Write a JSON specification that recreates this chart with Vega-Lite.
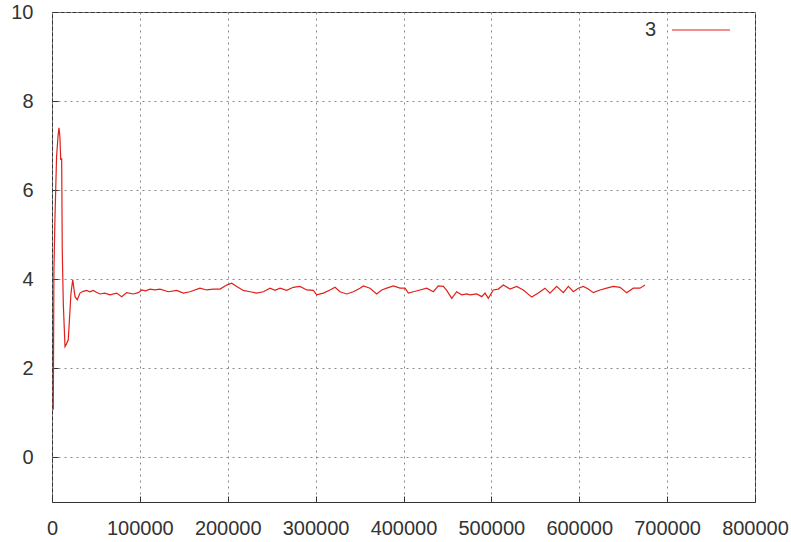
{
  "$schema": "https://vega.github.io/schema/vega-lite/v6.json",
  "width": 703,
  "height": 490,
  "autosize": "none",
  "padding": {"left": 52, "top": 12, "right": 36, "bottom": 40},
  "background": "white",
  "config": {
    "view": {"stroke": "#333", "strokeWidth": 1},
    "font": "Liberation Sans",
    "axis": {
      "domain": false,
      "grid": true,
      "gridColor": "#888",
      "gridDash": [2, 4],
      "gridWidth": 1,
      "ticks": true,
      "tickSize": -6,
      "tickColor": "#333",
      "labelFont": "Liberation Sans",
      "labelFontSize": 20,
      "labelColor": "#333",
      "title": null
    }
  },
  "data": {
    "values": [
      {"step": 1480, "value": 1.07, "series": "3"},
      {"step": 2160, "value": 4.17, "series": "3"},
      {"step": 3410, "value": 5.41, "series": "3"},
      {"step": 5200, "value": 6.75, "series": "3"},
      {"step": 7000, "value": 7.25, "series": "3"},
      {"step": 7970, "value": 7.4, "series": "3"},
      {"step": 9000, "value": 7.2, "series": "3"},
      {"step": 9900, "value": 6.69, "series": "3"},
      {"step": 11000, "value": 6.7, "series": "3"},
      {"step": 11700, "value": 4.6, "series": "3"},
      {"step": 12900, "value": 3.43, "series": "3"},
      {"step": 14800, "value": 2.49, "series": "3"},
      {"step": 16500, "value": 2.55, "series": "3"},
      {"step": 18500, "value": 2.64, "series": "3"},
      {"step": 20500, "value": 3.31, "series": "3"},
      {"step": 21600, "value": 3.69, "series": "3"},
      {"step": 23600, "value": 3.99, "series": "3"},
      {"step": 26200, "value": 3.61, "series": "3"},
      {"step": 28800, "value": 3.54, "series": "3"},
      {"step": 31900, "value": 3.69, "series": "3"},
      {"step": 35500, "value": 3.73, "series": "3"},
      {"step": 39500, "value": 3.75, "series": "3"},
      {"step": 43000, "value": 3.72, "series": "3"},
      {"step": 47000, "value": 3.75, "series": "3"},
      {"step": 50500, "value": 3.71, "series": "3"},
      {"step": 54600, "value": 3.67, "series": "3"},
      {"step": 60000, "value": 3.69, "series": "3"},
      {"step": 66000, "value": 3.65, "series": "3"},
      {"step": 73600, "value": 3.69, "series": "3"},
      {"step": 79300, "value": 3.61, "series": "3"},
      {"step": 85000, "value": 3.7, "series": "3"},
      {"step": 92500, "value": 3.67, "series": "3"},
      {"step": 98200, "value": 3.7, "series": "3"},
      {"step": 102000, "value": 3.76, "series": "3"},
      {"step": 106500, "value": 3.74, "series": "3"},
      {"step": 111500, "value": 3.78, "series": "3"},
      {"step": 117000, "value": 3.76, "series": "3"},
      {"step": 122900, "value": 3.78, "series": "3"},
      {"step": 132400, "value": 3.72, "series": "3"},
      {"step": 141900, "value": 3.75, "series": "3"},
      {"step": 149500, "value": 3.69, "series": "3"},
      {"step": 157000, "value": 3.72, "series": "3"},
      {"step": 168400, "value": 3.8, "series": "3"},
      {"step": 176000, "value": 3.76, "series": "3"},
      {"step": 183600, "value": 3.78, "series": "3"},
      {"step": 191200, "value": 3.78, "series": "3"},
      {"step": 198800, "value": 3.87, "series": "3"},
      {"step": 204500, "value": 3.91, "series": "3"},
      {"step": 210200, "value": 3.84, "series": "3"},
      {"step": 217700, "value": 3.75, "series": "3"},
      {"step": 225300, "value": 3.72, "series": "3"},
      {"step": 232900, "value": 3.69, "series": "3"},
      {"step": 240500, "value": 3.72, "series": "3"},
      {"step": 248100, "value": 3.8, "series": "3"},
      {"step": 253800, "value": 3.75, "series": "3"},
      {"step": 259500, "value": 3.8, "series": "3"},
      {"step": 267100, "value": 3.75, "series": "3"},
      {"step": 274600, "value": 3.82, "series": "3"},
      {"step": 282200, "value": 3.84, "series": "3"},
      {"step": 289900, "value": 3.76, "series": "3"},
      {"step": 297400, "value": 3.75, "series": "3"},
      {"step": 301200, "value": 3.65, "series": "3"},
      {"step": 308800, "value": 3.69, "series": "3"},
      {"step": 316400, "value": 3.76, "series": "3"},
      {"step": 322100, "value": 3.82, "series": "3"},
      {"step": 327700, "value": 3.72, "series": "3"},
      {"step": 335400, "value": 3.67, "series": "3"},
      {"step": 342900, "value": 3.72, "series": "3"},
      {"step": 350500, "value": 3.8, "series": "3"},
      {"step": 354300, "value": 3.85, "series": "3"},
      {"step": 361900, "value": 3.8, "series": "3"},
      {"step": 369500, "value": 3.67, "series": "3"},
      {"step": 375200, "value": 3.76, "series": "3"},
      {"step": 380900, "value": 3.8, "series": "3"},
      {"step": 388400, "value": 3.85, "series": "3"},
      {"step": 396000, "value": 3.8, "series": "3"},
      {"step": 401700, "value": 3.8, "series": "3"},
      {"step": 405500, "value": 3.69, "series": "3"},
      {"step": 411200, "value": 3.72, "series": "3"},
      {"step": 418800, "value": 3.76, "series": "3"},
      {"step": 426400, "value": 3.8, "series": "3"},
      {"step": 433900, "value": 3.72, "series": "3"},
      {"step": 439600, "value": 3.85, "series": "3"},
      {"step": 445300, "value": 3.84, "series": "3"},
      {"step": 449200, "value": 3.75, "series": "3"},
      {"step": 454900, "value": 3.57, "series": "3"},
      {"step": 460500, "value": 3.72, "series": "3"},
      {"step": 466200, "value": 3.65, "series": "3"},
      {"step": 471900, "value": 3.67, "series": "3"},
      {"step": 475700, "value": 3.65, "series": "3"},
      {"step": 483300, "value": 3.67, "series": "3"},
      {"step": 489000, "value": 3.61, "series": "3"},
      {"step": 492800, "value": 3.69, "series": "3"},
      {"step": 496500, "value": 3.57, "series": "3"},
      {"step": 502200, "value": 3.76, "series": "3"},
      {"step": 507900, "value": 3.78, "series": "3"},
      {"step": 513600, "value": 3.87, "series": "3"},
      {"step": 521200, "value": 3.78, "series": "3"},
      {"step": 528800, "value": 3.84, "series": "3"},
      {"step": 536300, "value": 3.76, "series": "3"},
      {"step": 545900, "value": 3.6, "series": "3"},
      {"step": 553400, "value": 3.69, "series": "3"},
      {"step": 561000, "value": 3.8, "series": "3"},
      {"step": 566700, "value": 3.69, "series": "3"},
      {"step": 574300, "value": 3.84, "series": "3"},
      {"step": 581900, "value": 3.7, "series": "3"},
      {"step": 587600, "value": 3.84, "series": "3"},
      {"step": 593300, "value": 3.72, "series": "3"},
      {"step": 599000, "value": 3.8, "series": "3"},
      {"step": 604600, "value": 3.84, "series": "3"},
      {"step": 610300, "value": 3.78, "series": "3"},
      {"step": 616000, "value": 3.7, "series": "3"},
      {"step": 623600, "value": 3.76, "series": "3"},
      {"step": 631200, "value": 3.8, "series": "3"},
      {"step": 638800, "value": 3.84, "series": "3"},
      {"step": 646400, "value": 3.82, "series": "3"},
      {"step": 654000, "value": 3.7, "series": "3"},
      {"step": 661500, "value": 3.8, "series": "3"},
      {"step": 669100, "value": 3.8, "series": "3"},
      {"step": 674800, "value": 3.87, "series": "3"}
    ]
  },
  "mark": {"type": "line", "strokeWidth": 1.2},
  "encoding": {
    "x": {
      "field": "step",
      "type": "quantitative",
      "scale": {"domain": [0, 800000], "nice": false, "zero": false},
      "axis": {
        "values": [0, 100000, 200000, 300000, 400000, 500000, 600000, 700000, 800000],
        "format": "d",
        "labelPadding": 22,
        "labelFlush": false,
        "labelOverlap": false
      }
    },
    "y": {
      "field": "value",
      "type": "quantitative",
      "scale": {"domain": [-1, 10], "nice": false, "zero": false},
      "axis": {
        "values": [0, 2, 4, 6, 8, 10],
        "labelPadding": 25,
        "labelFlush": false,
        "labelOverlap": false
      }
    },
    "color": {
      "field": "series",
      "type": "nominal",
      "scale": {"range": ["#e0201a"]},
      "legend": {
        "title": null,
        "orient": "none",
        "legendX": 619,
        "legendY": -12,
        "padding": 0,
        "symbolType": "stroke",
        "symbolSize": 3364,
        "symbolStrokeWidth": 1.2,
        "labelAlign": "right",
        "labelOffset": -75,
        "labelFontSize": 20,
        "labelFont": "Liberation Sans",
        "labelColor": "#333"
      }
    }
  }
}
